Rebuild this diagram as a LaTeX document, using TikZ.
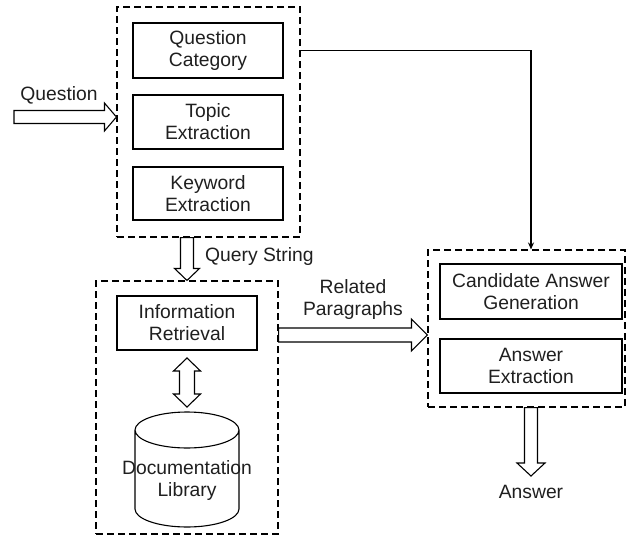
\documentclass[tikz,border=0pt]{standalone}
\usepackage{fontspec}
\setmainfont{Liberation Sans}
\usetikzlibrary{calc,arrows.meta}

% hollow block arrows: #1 tail, #2 tip, #3 half shaft, #4 half head, #5 head length
\newcommand\fatright[5]{%
  \draw[fat] let \p1=(#1), \p2=(#2) in
    (\x1,\y2+#3) -- (\x2-#5,\y2+#3) -- (\x2-#5,\y2+#4) -- (\x2,\y2)
    -- (\x2-#5,\y2-#4) -- (\x2-#5,\y2-#3) -- (\x1,\y2-#3) -- cycle;}
\newcommand\fatdown[5]{%
  \draw[fat] let \p1=(#1), \p2=(#2) in
    (\x2-#3,\y1) -- (\x2-#3,\y2+#5) -- (\x2-#4,\y2+#5) -- (\x2,\y2)
    -- (\x2+#4,\y2+#5) -- (\x2+#3,\y2+#5) -- (\x2+#3,\y1) -- cycle;}
\newcommand\fatboth[5]{%
  \draw[fat] let \p1=(#1), \p2=(#2) in
    (\x1,\y1) -- (\x1+#4,\y1-#5) -- (\x1+#3,\y1-#5) -- (\x1+#3,\y2+#5)
    -- (\x1+#4,\y2+#5) -- (\x1,\y2) -- (\x1-#4,\y2+#5) -- (\x1-#3,\y2+#5)
    -- (\x1-#3,\y1-#5) -- (\x1-#4,\y1-#5) -- cycle;}

\begin{document}
\begin{tikzpicture}[x=1pt,y=-1pt,
  every node/.style={font=\fontsize{19.3}{22}\selectfont, align=center, inner sep=0pt, text=black!88},
  group/.style={draw, dash pattern=on 7pt off 4pt, line width=1.1pt},
  stage/.style={draw, line width=1.1pt},
  fat/.style={draw, fill=white, line width=1.1pt, line join=miter},
  link/.style={draw, line width=1.1pt, -{Stealth[length=7pt,width=6pt]}}]

\useasboundingbox (0,0) rectangle (627,536);

% --- query analysis ---
\node[group, minimum width=183pt, minimum height=230pt] (G1) at (208.5,122) {};
\node[stage, minimum width=150pt, minimum height=55pt] (qc) at (208,50.5) {Question\\Category};
\node[stage, minimum width=150pt, minimum height=54pt] (te) at (208,122) {Topic\\Extraction};
\node[stage, minimum width=150pt, minimum height=53pt] (ke) at (208,193.5) {Keyword\\Extraction};

% --- retrieval ---
\node[group, minimum width=182pt, minimum height=253pt] (G2) at (187,407.5) {};
\node[stage, minimum width=140pt, minimum height=54pt] (ir) at (187,323) {Information\\Retrieval};

% documentation library cylinder
\coordinate (cyltop) at (187,430);
\coordinate (cylbot) at (187,509);
\draw[line width=1.1pt]
  (cyltop) ellipse [x radius=52pt, y radius=18pt]
  ($(cyltop)+(-52,0)$) -- ($(cylbot)+(-52,0)$)
  arc [start angle=180, end angle=360, x radius=52pt, y radius=18pt]
  -- ($(cyltop)+(52,0)$);
\node (lib) at (187,481) {Documentation\\Library};

% --- answer processing ---
\node[group, minimum width=197pt, minimum height=157pt] (G3) at (526.5,328.5) {};
\node[stage, minimum width=182pt, minimum height=55pt] (cag) at (531,291.5) {Candidate Answer\\Generation};
\node[stage, minimum width=182pt, minimum height=54pt] (ae) at (531,366) {Answer\\Extraction};

% --- labels ---
\node (qlabel) at (59,95) {Question};
\node[anchor=west] (qslabel) at (205,257) {Query String};
\node (rplabel) at (353,300) {Related\\Paragraphs};
\node (alabel) at (531,492) {Answer};

% --- connectors ---
\coordinate (qsrc) at (14,117);
\coordinate (qin) at ([yshift=5pt]G1.west);
\fatright{qsrc}{qin}{6.5}{14}{12}

\coordinate (qsout) at (ir |- G1.south);
\coordinate (qsin) at (ir |- G2.north);
\fatdown{qsout}{qsin}{6.5}{12.5}{12}

\coordinate (irlo) at (187,358);
\coordinate (libhi) at (187,407);
\fatboth{irlo}{libhi}{7.5}{13.5}{13}

\coordinate (rpin) at ([yshift=-6.5pt]G3.west);
\coordinate (rpout) at (G2.east |- rpin);
\fatright{rpout}{rpin}{7}{16}{16}

\coordinate (aout) at (cag |- G3.south);
\coordinate (atip) at (531,476);
\fatdown{aout}{atip}{6.5}{14}{13}

\draw[link] (qc -| G1.east) -| (cag |- G3.north);

\end{tikzpicture}
\end{document}
